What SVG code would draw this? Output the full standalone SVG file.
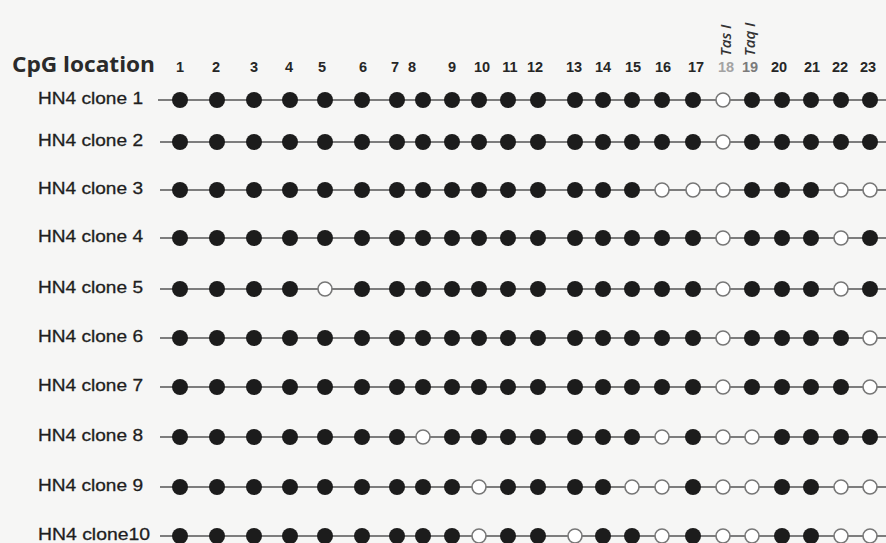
<svg xmlns="http://www.w3.org/2000/svg" width="886" height="543" viewBox="0 0 886 543">
<style>
.bg{fill:#f6f6f5}
.lbl{font-family:"Liberation Sans",Arial,sans-serif;font-size:17px;fill:#1e1e1e;stroke:#1e1e1e;stroke-width:0.3}
.num{font-family:"Liberation Sans",Arial,sans-serif;font-size:14.5px;font-weight:bold;fill:#262626;text-anchor:middle}
.title{font-family:"Open Sans","DejaVu Sans",sans-serif;font-size:21px;font-weight:bold;fill:#2a2a2a}
.enz{font-family:"Open Sans","DejaVu Sans",sans-serif;font-size:15px;font-style:italic;font-weight:600;fill:#333}
.ln{stroke:#555;stroke-width:1.6;fill:none}
.f{fill:#1c1c1c}
.o{fill:#fff;stroke:#777;stroke-width:1.6}
</style>
<defs>
<circle id="F" r="8" class="f"/>
<circle id="O" r="7" class="o"/>
</defs>
<rect class="bg" x="0" y="0" width="886" height="543"/>
<g id="header">
<text class="title" x="12" y="72" textLength="143" lengthAdjust="spacingAndGlyphs">CpG location</text>
<text class="num" x="180" y="72">1</text>
<text class="num" x="216" y="72">2</text>
<text class="num" x="254" y="72">3</text>
<text class="num" x="289" y="72">4</text>
<text class="num" x="322" y="72">5</text>
<text class="num" x="363" y="72">6</text>
<text class="num" x="395" y="72">7</text>
<text class="num" x="412" y="72">8</text>
<text class="num" x="452" y="72">9</text>
<text class="num" x="482" y="72">10</text>
<text class="num" x="510" y="72">11</text>
<text class="num" x="535" y="72">12</text>
<text class="num" x="574" y="72">13</text>
<text class="num" x="603" y="72">14</text>
<text class="num" x="633" y="72">15</text>
<text class="num" x="663" y="72">16</text>
<text class="num" x="696" y="72">17</text>
<text class="num" x="726" y="72" style="fill:#a3a3a3">18</text>
<text class="num" x="750" y="72" style="fill:#7a7a7a">19</text>
<text class="num" x="779" y="72">20</text>
<text class="num" x="812" y="72">21</text>
<text class="num" x="840" y="72">22</text>
<text class="num" x="868" y="72">23</text>
<text class="enz" transform="translate(731,56) rotate(-90)">Tas I</text>
<text class="enz" transform="translate(755,56) rotate(-90)">Taq I</text>
</g>
<g id="connectors">
<line class="ln" x1="158" y1="100" x2="886" y2="100"/>
<line class="ln" x1="160" y1="142" x2="886" y2="142"/>
<line class="ln" x1="160" y1="190" x2="886" y2="190"/>
<line class="ln" x1="160" y1="238" x2="886" y2="238"/>
<line class="ln" x1="160" y1="289" x2="886" y2="289"/>
<line class="ln" x1="160" y1="338" x2="886" y2="338"/>
<line class="ln" x1="160" y1="387" x2="886" y2="387"/>
<line class="ln" x1="160" y1="437" x2="886" y2="437"/>
<line class="ln" x1="160" y1="487" x2="886" y2="487"/>
<line class="ln" x1="160" y1="536" x2="886" y2="536"/>
</g>
<g id="clone1" transform="translate(0,100)">
<text class="lbl" x="38" y="4" textLength="105" lengthAdjust="spacingAndGlyphs">HN4 clone 1</text>
<use href="#F" x="180"/><use href="#F" x="217"/><use href="#F" x="254"/><use href="#F" x="290"/><use href="#F" x="325"/><use href="#F" x="362"/><use href="#F" x="397"/><use href="#F" x="423"/><use href="#F" x="452"/><use href="#F" x="479"/><use href="#F" x="508"/><use href="#F" x="538"/><use href="#F" x="575"/><use href="#F" x="603"/><use href="#F" x="632"/><use href="#F" x="662"/><use href="#F" x="693"/><use href="#O" x="723"/><use href="#F" x="752"/><use href="#F" x="782"/><use href="#F" x="811"/><use href="#F" x="841"/><use href="#F" x="870"/>
</g>
<g id="clone2" transform="translate(0,142)">
<text class="lbl" x="38" y="4" textLength="105" lengthAdjust="spacingAndGlyphs">HN4 clone 2</text>
<use href="#F" x="180"/><use href="#F" x="217"/><use href="#F" x="254"/><use href="#F" x="290"/><use href="#F" x="325"/><use href="#F" x="362"/><use href="#F" x="397"/><use href="#F" x="423"/><use href="#F" x="452"/><use href="#F" x="479"/><use href="#F" x="508"/><use href="#F" x="538"/><use href="#F" x="575"/><use href="#F" x="603"/><use href="#F" x="632"/><use href="#F" x="662"/><use href="#F" x="693"/><use href="#O" x="723"/><use href="#F" x="752"/><use href="#F" x="782"/><use href="#F" x="811"/><use href="#F" x="841"/><use href="#F" x="870"/>
</g>
<g id="clone3" transform="translate(0,190)">
<text class="lbl" x="38" y="4" textLength="105" lengthAdjust="spacingAndGlyphs">HN4 clone 3</text>
<use href="#F" x="180"/><use href="#F" x="217"/><use href="#F" x="254"/><use href="#F" x="290"/><use href="#F" x="325"/><use href="#F" x="362"/><use href="#F" x="397"/><use href="#F" x="423"/><use href="#F" x="452"/><use href="#F" x="479"/><use href="#F" x="508"/><use href="#F" x="538"/><use href="#F" x="575"/><use href="#F" x="603"/><use href="#F" x="632"/><use href="#O" x="662"/><use href="#O" x="693"/><use href="#O" x="723"/><use href="#F" x="752"/><use href="#F" x="782"/><use href="#F" x="811"/><use href="#O" x="841"/><use href="#O" x="870"/>
</g>
<g id="clone4" transform="translate(0,238)">
<text class="lbl" x="38" y="4" textLength="105" lengthAdjust="spacingAndGlyphs">HN4 clone 4</text>
<use href="#F" x="180"/><use href="#F" x="217"/><use href="#F" x="254"/><use href="#F" x="290"/><use href="#F" x="325"/><use href="#F" x="362"/><use href="#F" x="397"/><use href="#F" x="423"/><use href="#F" x="452"/><use href="#F" x="479"/><use href="#F" x="508"/><use href="#F" x="538"/><use href="#F" x="575"/><use href="#F" x="603"/><use href="#F" x="632"/><use href="#F" x="662"/><use href="#F" x="693"/><use href="#O" x="723"/><use href="#F" x="752"/><use href="#F" x="782"/><use href="#F" x="811"/><use href="#O" x="841"/><use href="#F" x="870"/>
</g>
<g id="clone5" transform="translate(0,289)">
<text class="lbl" x="38" y="4" textLength="105" lengthAdjust="spacingAndGlyphs">HN4 clone 5</text>
<use href="#F" x="180"/><use href="#F" x="217"/><use href="#F" x="254"/><use href="#F" x="290"/><use href="#O" x="325"/><use href="#F" x="362"/><use href="#F" x="397"/><use href="#F" x="423"/><use href="#F" x="452"/><use href="#F" x="479"/><use href="#F" x="508"/><use href="#F" x="538"/><use href="#F" x="575"/><use href="#F" x="603"/><use href="#F" x="632"/><use href="#F" x="662"/><use href="#F" x="693"/><use href="#O" x="723"/><use href="#F" x="752"/><use href="#F" x="782"/><use href="#F" x="811"/><use href="#O" x="841"/><use href="#F" x="870"/>
</g>
<g id="clone6" transform="translate(0,338)">
<text class="lbl" x="38" y="4" textLength="105" lengthAdjust="spacingAndGlyphs">HN4 clone 6</text>
<use href="#F" x="180"/><use href="#F" x="217"/><use href="#F" x="254"/><use href="#F" x="290"/><use href="#F" x="325"/><use href="#F" x="362"/><use href="#F" x="397"/><use href="#F" x="423"/><use href="#F" x="452"/><use href="#F" x="479"/><use href="#F" x="508"/><use href="#F" x="538"/><use href="#F" x="575"/><use href="#F" x="603"/><use href="#F" x="632"/><use href="#F" x="662"/><use href="#F" x="693"/><use href="#O" x="723"/><use href="#F" x="752"/><use href="#F" x="782"/><use href="#F" x="811"/><use href="#F" x="841"/><use href="#O" x="870"/>
</g>
<g id="clone7" transform="translate(0,387)">
<text class="lbl" x="38" y="4" textLength="105" lengthAdjust="spacingAndGlyphs">HN4 clone 7</text>
<use href="#F" x="180"/><use href="#F" x="217"/><use href="#F" x="254"/><use href="#F" x="290"/><use href="#F" x="325"/><use href="#F" x="362"/><use href="#F" x="397"/><use href="#F" x="423"/><use href="#F" x="452"/><use href="#F" x="479"/><use href="#F" x="508"/><use href="#F" x="538"/><use href="#F" x="575"/><use href="#F" x="603"/><use href="#F" x="632"/><use href="#F" x="662"/><use href="#F" x="693"/><use href="#O" x="723"/><use href="#F" x="752"/><use href="#F" x="782"/><use href="#F" x="811"/><use href="#F" x="841"/><use href="#O" x="870"/>
</g>
<g id="clone8" transform="translate(0,437)">
<text class="lbl" x="38" y="4" textLength="105" lengthAdjust="spacingAndGlyphs">HN4 clone 8</text>
<use href="#F" x="180"/><use href="#F" x="217"/><use href="#F" x="254"/><use href="#F" x="290"/><use href="#F" x="325"/><use href="#F" x="362"/><use href="#F" x="397"/><use href="#O" x="423"/><use href="#F" x="452"/><use href="#F" x="479"/><use href="#F" x="508"/><use href="#F" x="538"/><use href="#F" x="575"/><use href="#F" x="603"/><use href="#F" x="632"/><use href="#O" x="662"/><use href="#F" x="693"/><use href="#O" x="723"/><use href="#O" x="752"/><use href="#F" x="782"/><use href="#F" x="811"/><use href="#F" x="841"/><use href="#F" x="870"/>
</g>
<g id="clone9" transform="translate(0,487)">
<text class="lbl" x="38" y="4" textLength="105" lengthAdjust="spacingAndGlyphs">HN4 clone 9</text>
<use href="#F" x="180"/><use href="#F" x="217"/><use href="#F" x="254"/><use href="#F" x="290"/><use href="#F" x="325"/><use href="#F" x="362"/><use href="#F" x="397"/><use href="#F" x="423"/><use href="#F" x="452"/><use href="#O" x="479"/><use href="#F" x="508"/><use href="#F" x="538"/><use href="#F" x="575"/><use href="#F" x="603"/><use href="#O" x="632"/><use href="#O" x="662"/><use href="#F" x="693"/><use href="#O" x="723"/><use href="#O" x="752"/><use href="#F" x="782"/><use href="#F" x="811"/><use href="#O" x="841"/><use href="#O" x="870"/>
</g>
<g id="clone10" transform="translate(0,536)">
<text class="lbl" x="38" y="4" textLength="112" lengthAdjust="spacingAndGlyphs">HN4 clone10</text>
<use href="#F" x="180"/><use href="#F" x="217"/><use href="#F" x="254"/><use href="#F" x="290"/><use href="#F" x="325"/><use href="#F" x="362"/><use href="#F" x="397"/><use href="#F" x="423"/><use href="#F" x="452"/><use href="#O" x="479"/><use href="#F" x="508"/><use href="#F" x="538"/><use href="#O" x="575"/><use href="#F" x="603"/><use href="#F" x="632"/><use href="#O" x="662"/><use href="#F" x="693"/><use href="#O" x="723"/><use href="#O" x="752"/><use href="#F" x="782"/><use href="#F" x="811"/><use href="#O" x="841"/><use href="#O" x="870"/>
</g>
</svg>
